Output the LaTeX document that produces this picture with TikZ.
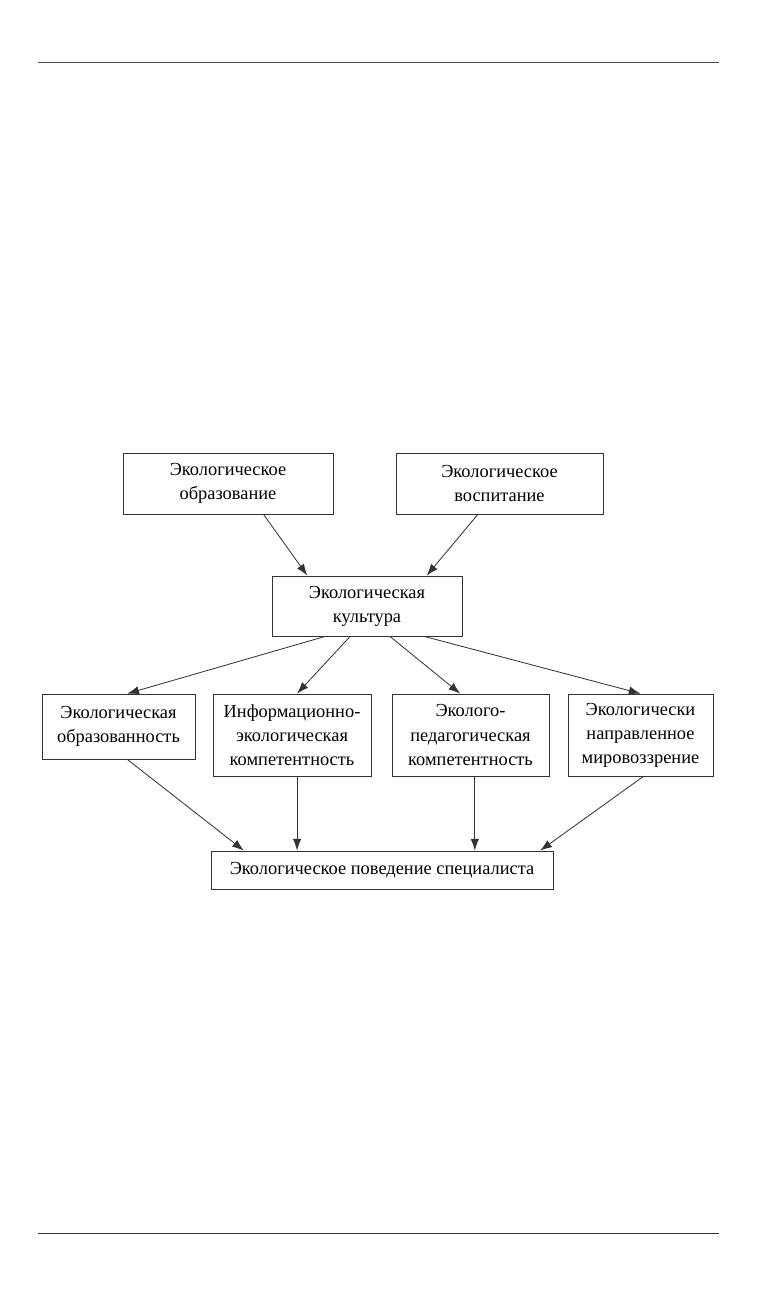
\documentclass[tikz,border=0pt]{standalone}
\usepackage{fontspec}
\setmainfont{Liberation Serif}
\usetikzlibrary{arrows.meta}

\begin{document}
\begin{tikzpicture}[x=0.03cm, y=-0.03cm,
  box/.style={draw=black!80, line width=0.7pt, align=center, inner sep=0pt,
    font=\fontsize{15.7}{20.5}\selectfont},
  arr/.style={-{Latex[length=3.5mm, width=2.5mm]}, line width=0.7pt, draw=black!80}]
\useasboundingbox (0,0) rectangle (756,1294);
\draw[line width=0.8pt, black!70] (38,62) -- (719,62);
\draw[line width=0.8pt, black!80] (38,1233) -- (719,1233);
\node[box, minimum width=6.3cm, minimum height=1.83cm] (obrazovanie) at (228,483.5) {Экологическое\\образование};
\node[box, minimum width=6.21cm, minimum height=1.83cm] (vospitanie) at (499.5,483.5) {Экологическое\\воспитание};
\node[box, minimum width=5.7cm, minimum height=1.8cm] (kultura) at (367,606) {Экологическая\\культура};
\node[box, minimum width=4.59cm, minimum height=1.95cm] (obrazovannost) at (118.5,726.5) {Экологическая\\образованность};
\node[box, minimum width=4.74cm, minimum height=2.46cm] (infokomp) at (292,735) {Информационно-\\экологическая\\компетентность};
\node[box, minimum width=4.71cm, minimum height=2.46cm] (pedkomp) at (470.5,735) {Эколого-\\педагогическая\\компетентность};
\node[box, minimum width=4.35cm, minimum height=2.46cm] (mirovozzrenie) at (640.5,735) {Экологически\\направленное\\мировоззрение};
\node[box, minimum width=10.26cm, minimum height=1.14cm] (povedenie) at (382,870) {Экологическое поведение специалиста};
\draw[arr] (obrazovanie.-41) -- (kultura.153);
\draw[arr] (vospitanie.-125) -- (kultura.27);
\draw[arr] (kultura.-144.5) -- (obrazovannost.75.6);
\draw[arr] (kultura.-119.5) -- (infokomp.83);
\draw[arr] (kultura.-53.7) -- (pedkomp.104.4);
\draw[arr] (kultura.-28.6) -- (mirovozzrenie.90);
\draw[arr] (obrazovannost.-75.3) -- (povedenie.172.7);
\draw[arr] (infokomp.-83) -- (infokomp.-83 |- povedenie.north);
\draw[arr] (pedkomp.-84) -- (pedkomp.-84 |- povedenie.north);
\draw[arr] (mirovozzrenie.-86.6) -- (povedenie.7);
\end{tikzpicture}
\end{document}
